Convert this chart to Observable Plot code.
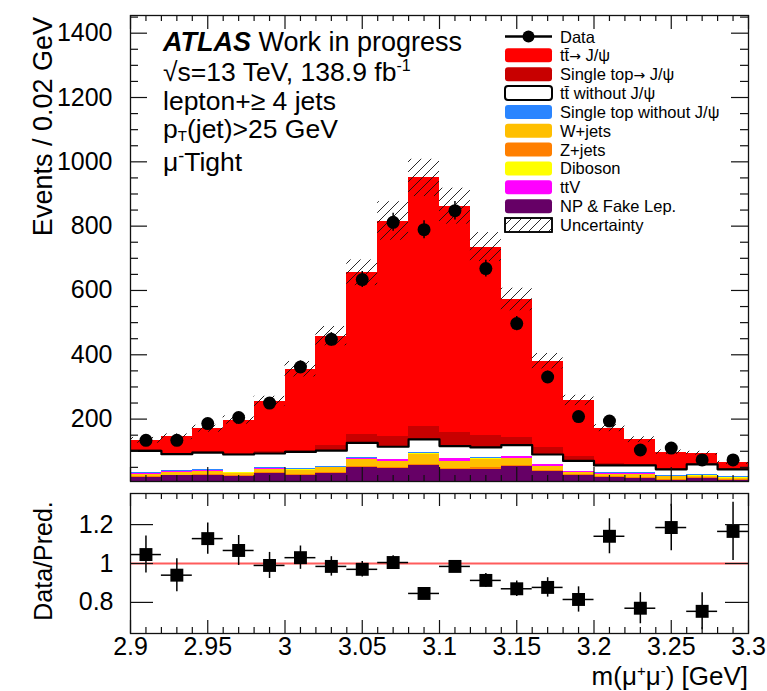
<!DOCTYPE html>
<html><head><meta charset="utf-8">
<script src="https://cdn.jsdelivr.net/npm/d3@7"></script>
<script src="https://cdn.jsdelivr.net/npm/@observablehq/plot@0.6"></script>
<style>
html,body{margin:0;padding:0;background:#fff;}
#chart{position:relative;width:767px;height:691px;overflow:hidden;background:#fff;}
#chart svg{display:block;}
</style></head><body><div id="chart"></div>
<script>
// ---------------- data ----------------
const binEdges = [2.90,2.92,2.94,2.96,2.98,3.00,3.02,3.04,3.06,3.08,3.10,3.12,3.14,3.16,3.18,3.20,3.22,3.24,3.26,3.28,3.30];

// stack order, bottom -> top
const componentNames = ["NP & Fake Lep.", "Z+jets", "W+jets", "Diboson", "ttV", "Single top without J/ψ", "tt̄ without J/ψ", "Single top→ J/ψ", "tt̄→ J/ψ"];
const componentColors = ["#660066", "#ff7f00", "#ffbf00", "#ffff00", "#ff00ff", "#2a85ff", "#ffffff", "#c80000", "#ff0000"];

const npFake   = [18,24,24,22,30,26,31,48,46,56,42,44,52,36,24,17,15,9,16,10];
const zJets    = [2,2,3,2,3,3,3,4,4,4,4,4,4,3,3,3,3,2,2,2];
const wJets    = [8,8,10,8,9,12,14,21,18,31,22,27,20,13,7,8,10,10,5,4];
const diboson  = [1,1,1,1,1,1,1,1,1,1,1,1,1,1,1,1,1,1,1,1];
const ttV      = [1,1,1,1,4,1,1,3,5,1,7,1,6,5,1,1,1,1,1,1];
const stNoJpsi = [5,3,5,1,1,4,4,4,1,4,1,3,1,1,1,4,3,1,3,3];
const ttNoJpsi = [66,52,52,55,45,51,48,45,39,40,39,32,35,31,33,22,23,20,31,23];
const stJpsi   = [3,3,3,4,5,5,16,26,32,40,42,36,24,22,14,5,3,3,3,3];
const ttJpsi   = [30,51,71,103,157,252,340,503,670,773,704,587,429,268,174,111,77,50,32,17];
const componentValues = [npFake, zJets, wJets, diboson, ttV, stNoJpsi, ttNoJpsi, stJpsi, ttJpsi];

const predUncertainty = [9,9,11,13,16,24,30,40,60,58,56,45,35,24,16,11,9,7,6,5];

const dataValues = [134,134,186,205,250,362,448,634,812,789,848,668,497,331,208,194,104,110,73,73];
const dataErrors = [12,12,14,14,16,19,21,25,28,28,29,26,22,18,14,14,10,10,9,9];

const ratioValues = [1.046,0.94,1.128,1.067,0.99,1.03,0.985,0.97,1.005,0.846,0.985,0.913,0.87,0.877,0.815,1.14,0.77,1.185,0.754,1.165];
const ratioErrors = [0.095,0.085,0.08,0.077,0.067,0.06,0.05,0.04,0.035,0.03,0.03,0.035,0.04,0.05,0.065,0.09,0.08,0.12,0.095,0.15];

// ticks
const mainYTicks = [200,400,600,800,1000,1200,1400];
const mainYLabels = ["200","400","600","800","1000","1200","1400"];
const mainYMinor = [50,100,150,250,300,350,450,500,550,650,700,750,850,900,950,1050,1100,1150,1250,1300,1350,1450];
const xTicks = [2.9,2.95,3.0,3.05,3.1,3.15,3.2,3.25,3.3];
const xTickLabels = ["2.9","2.95","3","3.05","3.1","3.15","3.2","3.25","3.3"];
const xMinor = [2.91,2.92,2.93,2.94,2.96,2.97,2.98,2.99,3.01,3.02,3.03,3.04,3.06,3.07,3.08,3.09,3.11,3.12,3.13,3.14,3.16,3.17,3.18,3.19,3.21,3.22,3.23,3.24,3.26,3.27,3.28,3.29];
const ratioYTicks = [0.8,1.0,1.2];
const ratioYLabels = ["0.8","1","1.2"];

// legend order (top to bottom)
const legendNames = ["tt̄→ J/ψ","Single top→ J/ψ","tt̄ without J/ψ","Single top without J/ψ","W+jets","Z+jets","Diboson","ttV","NP & Fake Lep."];

// ---------------- derived rows ----------------
const nBins = binEdges.length - 1;
const stackRows = [];
componentNames.forEach((name, k) => {
  componentValues[k].forEach((v, i) => stackRows.push({comp: name, x1: binEdges[i], x2: binEdges[i+1], value: v}));
});
const binRows = d3.range(nBins).map(i => {
  const total = d3.sum(componentValues, s => s[i]);
  const lineTop = d3.sum(componentValues.slice(0, 7), s => s[i]);
  return {
    x1: binEdges[i], x2: binEdges[i+1], xc: (binEdges[i] + binEdges[i+1]) / 2,
    total, lineTop, unc: predUncertainty[i],
    data: dataValues[i], dataErr: dataErrors[i],
    r: ratioValues[i], rErr: ratioErrors[i]
  };
});
const stepPts = binEdges.map((x, i) => ({x, y: binRows[Math.min(i, nBins - 1)].lineTop}));

// ---------------- layout ----------------
const FONT = "'Liberation Sans', Arial, Helvetica, sans-serif";
const W = 767;
const MAIN = {h: 487, top: 15, bottom: 6, left: 130, right: 19};
const RAT = {h: 204, top: 6, bottom: 58, left: 130, right: 19};
const fw = W - MAIN.left - MAIN.right;
const fhMain = MAIN.h - MAIN.top - MAIN.bottom;
const fhRat = RAT.h - RAT.top - RAT.bottom;
const TICK = "#111";

function frameTicksY(vals, len, fw) {
  return [
    Plot.ruleY(vals, {insetRight: fw - len, stroke: TICK, strokeWidth: 1.2}),
    Plot.ruleY(vals, {insetLeft: fw - len, stroke: TICK, strokeWidth: 1.2})
  ];
}
function frameTicksX(vals, len, fh) {
  return [
    Plot.ruleX(vals, {insetBottom: fh - len, stroke: TICK, strokeWidth: 1.2}),
    Plot.ruleX(vals, {insetTop: fh - len, stroke: TICK, strokeWidth: 1.2})
  ];
}

const mainSvg = Plot.plot({
  width: W, height: MAIN.h,
  marginTop: MAIN.top, marginBottom: MAIN.bottom, marginLeft: MAIN.left, marginRight: MAIN.right,
  style: {fontFamily: FONT, fontSize: "25px", color: "black", background: "white", overflow: "visible"},
  x: {domain: [2.9, 3.3], label: null},
  y: {domain: [6, 1455], label: null},
  color: {domain: componentNames, range: componentColors},
  marks: [
    Plot.rectY(stackRows, {x1: "x1", x2: "x2", y: "value", fill: "comp", order: componentNames, shapeRendering: "crispEdges", clip: true}),
    Plot.line(stepPts, {x: "x", y: "y", curve: "step-after", stroke: "black", strokeWidth: 2.2, clip: true}),
    Plot.rect(binRows, {x1: "x1", x2: "x2", y1: d => d.total - d.unc, y2: d => d.total + d.unc, fill: "url(#hatch)", clip: true}),
    Plot.ruleX(binRows, {x: "xc", y1: d => d.data - d.dataErr, y2: d => d.data + d.dataErr, stroke: "black", strokeWidth: 1.5}),
    Plot.dot(binRows, {x: "xc", y: "data", r: 6.5, fill: "black", stroke: "none"}),
    ...frameTicksY(mainYTicks, 17, fw),
    ...frameTicksY(mainYMinor, 8, fw),
    ...frameTicksX(xTicks, 14, fhMain),
    ...frameTicksX(xMinor, 6, fhMain),
    Plot.axisY(mainYTicks, {anchor: "left", tickSize: 0, tickPadding: 18, fontSize: 25, label: null,
      tickFormat: d => mainYLabels[mainYTicks.indexOf(d)]}),
    Plot.axisX([], {label: null, tickSize: 0}),
    Plot.frame({stroke: "#111", strokeWidth: 1.3})
  ]
});

const ratioSvg = Plot.plot({
  width: W, height: RAT.h,
  marginTop: RAT.top, marginBottom: RAT.bottom, marginLeft: RAT.left, marginRight: RAT.right,
  style: {fontFamily: FONT, fontSize: "25px", color: "black", background: "white", overflow: "visible"},
  x: {domain: [2.9, 3.3], label: null},
  y: {domain: [0.64, 1.36], label: null},
  marks: [
    Plot.ruleY([1], {stroke: "#ff5c5c", strokeWidth: 1.8}),
    Plot.ruleX(binRows, {x: "xc", y1: d => d.r - d.rErr, y2: d => d.r + d.rErr, stroke: "black", strokeWidth: 1.5, clip: true}),
    Plot.ruleY(binRows, {y: "r", x1: "x1", x2: "x2", stroke: "black", strokeWidth: 1.5, clip: true}),
    Plot.dot(binRows, {x: "xc", y: "r", symbol: "square", r: 7.3, fill: "black", stroke: "none"}),
    ...frameTicksY(ratioYTicks, 23, fw),
    ...frameTicksX(xTicks, 13, fhRat),
    ...frameTicksX(xMinor, 6, fhRat),
    Plot.axisY(ratioYTicks, {anchor: "left", tickSize: 0, tickPadding: 17, fontSize: 25, label: null,
      tickFormat: d => ratioYLabels[ratioYTicks.indexOf(d)]}),
    Plot.axisX(xTicks, {anchor: "bottom", tickSize: 0, tickPadding: 4, fontSize: 25, label: null,
      tickFormat: d => xTickLabels[xTicks.findIndex(v => Math.abs(v - d) < 1e-9)]}),
    Plot.frame({stroke: "#111", strokeWidth: 1.3})
  ]
});

// hatch pattern
const defs = d3.select(mainSvg).insert("defs", ":first-child");
const pat = defs.append("pattern").attr("id", "hatch").attr("patternUnits", "userSpaceOnUse")
  .attr("width", 10).attr("height", 10);
pat.append("path").attr("d", "M-2,2 L2,-2 M0,10 L10,0 M8,12 L12,8")
  .attr("stroke", "#111").attr("stroke-width", 0.9).attr("fill", "none");

// rich text helper (arrows drawn with DejaVu Sans for a full-size glyph)
function richText(svg, x, y, parts, opts = {}) {
  const t = d3.select(svg).append("text")
    .attr("x", x).attr("y", y)
    .attr("font-family", FONT).attr("font-size", opts.size || 25)
    .attr("text-anchor", opts.anchor || "start").attr("fill", "black");
  if (opts.rotate) t.attr("transform", `rotate(${opts.rotate},${x},${y})`);
  for (const p of parts) {
    const o = typeof p === "string" ? {t: p} : p;
    const pieces = o.t.split(/(→)/).filter(s => s.length);
    pieces.forEach((piece, j) => {
      const s = t.append("tspan").text(piece);
      if (piece === "→") s.attr("font-family", "'DejaVu Sans', sans-serif").attr("font-size", (opts.size || 25) * 0.85);
      if (o.size) s.attr("font-size", o.size);
      if (o.dy && j === 0) s.attr("dy", o.dy);
      if (o.weight) s.attr("font-weight", o.weight);
      if (o.style) s.attr("font-style", o.style);
    });
  }
  return t;
}

// axis titles
richText(mainSvg, 52, 17, ["Events / 0.02 GeV"], {size: 27, anchor: "end", rotate: -90});
richText(ratioSvg, 52, 561 - 487, ["Data/Pred."], {size: 25, anchor: "middle", rotate: -90});
richText(ratioSvg, 748, 685 - 487, ["m(μ", {t: "+", size: 15, dy: -9}, {t: "μ", dy: 9}, {t: "-", size: 15, dy: -9}, {t: ") [GeV]", dy: 9}], {size: 26, anchor: "end"});

// ATLAS block
richText(mainSvg, 163, 51, [{t: "ATLAS", weight: "bold", style: "italic"}, " Work in progress"], {size: 27});
richText(mainSvg, 163, 81, ["√s=13 TeV, 138.9 fb", {t: "-1", size: 16, dy: -10}], {size: 26.5});
richText(mainSvg, 163, 110, ["lepton+≥ 4 jets"], {size: 26.5});
richText(mainSvg, 163, 138, ["p", {t: "T", size: 15, dy: 3}, {t: "(jet)>25 GeV", dy: -3}], {size: 26.5});
richText(mainSvg, 163, 171, ["μ", {t: "-", size: 18, dy: -9}, {t: "Tight", dy: 9}], {size: 26.5});

// legend
const lg = d3.select(mainSvg).append("g");
const LX = 505, LW = 47, LH = 14, TX = 560, Y0 = 36.5, STEP = 18.85;
lg.append("line").attr("x1", LX).attr("x2", LX + LW).attr("y1", Y0).attr("y2", Y0).attr("stroke", "black").attr("stroke-width", 2.5);
lg.append("circle").attr("cx", LX + LW / 2).attr("cy", Y0).attr("r", 6).attr("fill", "black");
richText(mainSvg, TX, Y0 + 6, ["Data"], {size: 16.5});
legendNames.forEach((name, i) => {
  const y = Y0 + STEP * (i + 1);
  const col = componentColors[componentNames.indexOf(name)];
  const outlined = name === "tt̄ without J/ψ";
  lg.append("rect").attr("x", LX).attr("y", y - LH / 2).attr("width", LW).attr("height", LH).attr("rx", 3)
    .attr("fill", col).attr("stroke", outlined ? "black" : "none").attr("stroke-width", 2);
  richText(mainSvg, TX, y + 6, [name], {size: 16.5});
});
{
  const y = Y0 + STEP * (legendNames.length + 1);
  lg.append("rect").attr("x", LX).attr("y", y - LH / 2).attr("width", LW).attr("height", LH)
    .attr("fill", "white").attr("stroke", "black").attr("stroke-width", 1.5);
  lg.append("rect").attr("x", LX).attr("y", y - LH / 2).attr("width", LW).attr("height", LH)
    .attr("fill", "url(#hatch)").attr("stroke", "black").attr("stroke-width", 1.5);
  richText(mainSvg, TX, y + 6, ["Uncertainty"], {size: 16.5});
}

const chart = document.getElementById("chart");
chart.appendChild(mainSvg);
chart.appendChild(ratioSvg);
</script>
</body></html>
